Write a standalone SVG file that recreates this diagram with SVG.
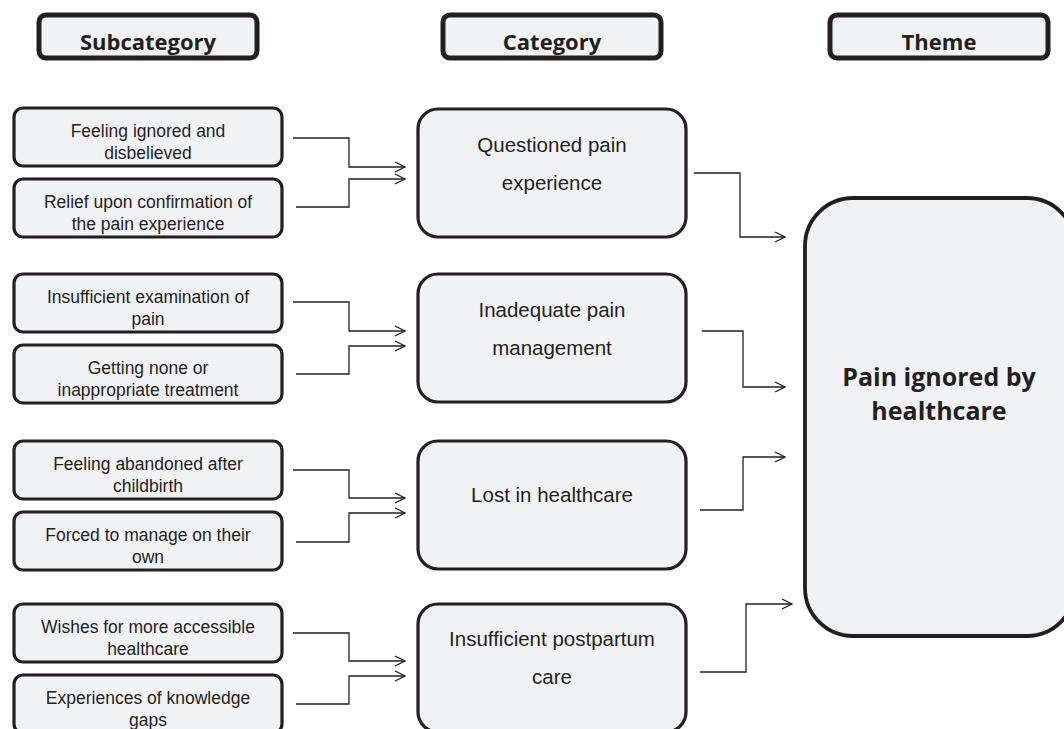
<svg xmlns="http://www.w3.org/2000/svg" width="1064" height="729" viewBox="0 0 1064 729">
<defs>
<marker id="arr" viewBox="0 0 12 12" refX="11" refY="6" markerWidth="12" markerHeight="12" markerUnits="userSpaceOnUse" orient="auto">
<path d="M1,1 L11,6 L1,11" fill="none" stroke="#231f20" stroke-width="1.3"/>
</marker>
<style>
.hdr{fill:#f1f2f4;stroke:#231f20;stroke-width:5}
.sub{fill:#f1f2f4;stroke:#231f20;stroke-width:3.2}
.cat{fill:#f1f2f4;stroke:#231f20;stroke-width:3.2}
.thm{fill:#f1f2f4;stroke:#231f20;stroke-width:3.8}
.ht{font-family:"Open Sans","DejaVu Sans",sans-serif;font-weight:bold;font-size:22px;fill:#231f20;text-anchor:middle}
.st{font-family:"Liberation Sans",Arial,sans-serif;font-size:17.5px;fill:#231f20;text-anchor:middle}
.ct{font-family:"Liberation Sans",Arial,sans-serif;font-size:20.5px;fill:#231f20;text-anchor:middle}
.tt{font-family:"Open Sans","DejaVu Sans",sans-serif;font-weight:bold;font-size:25px;fill:#231f20;text-anchor:middle}
.cn{fill:none;stroke:#231f20;stroke-width:1.3;marker-end:url(#arr)}
</style>
</defs>
<rect width="1064" height="729" fill="#ffffff"/>

<g id="hdr-subcategory"><rect class="hdr" x="39" y="15" width="218" height="43" rx="7"/><text class="ht" x="148" y="50">Subcategory</text></g>
<g id="hdr-category"><rect class="hdr" x="443" y="15" width="218" height="43" rx="7"/><text class="ht" x="552" y="50">Category</text></g>
<g id="hdr-theme"><rect class="hdr" x="830" y="15" width="218" height="43" rx="7"/><text class="ht" x="939" y="50">Theme</text></g>

<g id="sub1a"><rect class="sub" x="14" y="108" width="268" height="58" rx="9"/><text class="st" x="148" y="137">Feeling ignored and</text><text class="st" x="148" y="159">disbelieved</text></g>
<g id="sub1b"><rect class="sub" x="14" y="179" width="268" height="58" rx="9"/><text class="st" x="148" y="208">Relief upon confirmation of</text><text class="st" x="148" y="230">the pain experience</text></g>
<g id="sub2a"><rect class="sub" x="14" y="274" width="268" height="58" rx="9"/><text class="st" x="148" y="303">Insufficient examination of</text><text class="st" x="148" y="325">pain</text></g>
<g id="sub2b"><rect class="sub" x="14" y="345" width="268" height="58" rx="9"/><text class="st" x="148" y="374">Getting none or</text><text class="st" x="148" y="396">inappropriate treatment</text></g>
<g id="sub3a"><rect class="sub" x="14" y="441" width="268" height="58" rx="9"/><text class="st" x="148" y="470">Feeling abandoned after</text><text class="st" x="148" y="492">childbirth</text></g>
<g id="sub3b"><rect class="sub" x="14" y="512" width="268" height="58" rx="9"/><text class="st" x="148" y="541">Forced to manage on their</text><text class="st" x="148" y="563">own</text></g>
<g id="sub4a"><rect class="sub" x="14" y="604" width="268" height="58" rx="9"/><text class="st" x="148" y="633">Wishes for more accessible</text><text class="st" x="148" y="655">healthcare</text></g>
<g id="sub4b"><rect class="sub" x="14" y="675" width="268" height="58" rx="9"/><text class="st" x="148" y="704">Experiences of knowledge</text><text class="st" x="148" y="726">gaps</text></g>

<g id="cat1"><rect class="cat" x="418" y="109" width="268" height="128" rx="20"/><text class="ct" x="552" y="152">Questioned pain</text><text class="ct" x="552" y="190">experience</text></g>
<g id="cat2"><rect class="cat" x="418" y="274" width="268" height="128" rx="20"/><text class="ct" x="552" y="317">Inadequate pain</text><text class="ct" x="552" y="355">management</text></g>
<g id="cat3"><rect class="cat" x="418" y="441" width="268" height="128" rx="20"/><text class="ct" x="552" y="502">Lost in healthcare</text></g>
<g id="cat4"><rect class="cat" x="418" y="604" width="268" height="128" rx="20"/><text class="ct" x="552" y="646">Insufficient postpartum</text><text class="ct" x="552" y="684">care</text></g>

<g id="theme"><rect class="thm" x="805" y="198" width="270" height="438" rx="48"/><text class="tt" x="939" y="386">Pain ignored by</text><text class="tt" x="939" y="420">healthcare</text></g>

<g id="connectors">
<path class="cn" d="M293,138 H349 V167 H405"/>
<path class="cn" d="M296,207 H349 V179 H405"/>
<path class="cn" d="M293,302 H349 V331 H405"/>
<path class="cn" d="M296,374 H349 V346 H405"/>
<path class="cn" d="M293,470 H349 V498 H405"/>
<path class="cn" d="M296,542 H349 V513 H405"/>
<path class="cn" d="M293,633 H349 V661 H405"/>
<path class="cn" d="M296,704 H349 V676 H405"/>
<path class="cn" d="M694,173 H740 V237 H785"/>
<path class="cn" d="M702,331 H743 V387 H785"/>
<path class="cn" d="M700,510 H743 V457 H785"/>
<path class="cn" d="M700,672 H746 V604 H792"/>
</g>
</svg>
